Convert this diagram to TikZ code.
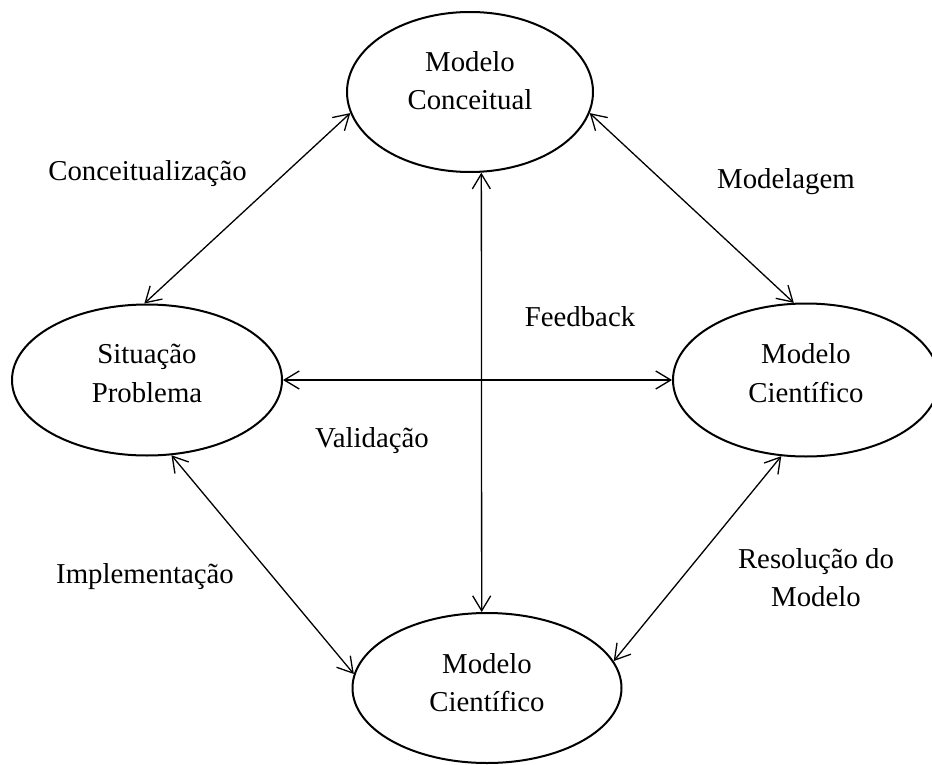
\documentclass[tikz,border=0pt]{standalone}
\usepackage{fontspec}
\setmainfont{Liberation Serif}
\usetikzlibrary{shapes.geometric,arrows.meta}

\tikzset{
  stage/.style={ellipse, draw, line width=2pt, inner sep=0pt},
  txt/.style={anchor=base, inner sep=0pt, font=\fontsize{28.8}{38}\selectfont},
  tip/.tip={Straight Barb[length=15pt,width=18pt]},
  link/.style={tip-tip, line width=1.3pt},
}

\begin{document}
\begin{tikzpicture}[x=1pt, y=-1pt]
  \useasboundingbox (0,0) rectangle (932,765);

  % the four stages of the cycle
  \node[stage, minimum width=246pt, minimum height=160pt] (mc) at (470,92)  {};
  \node[stage, minimum width=270pt, minimum height=151pt] (ms) at (147,380) {};
  \node[stage, minimum width=266pt, minimum height=153pt] (mr) at (806,380) {};
  \node[stage, minimum width=269pt, minimum height=150pt] (mb) at (487,688) {};

  % stage names
  \node[txt] (mc1) at (470,72)  {Modelo};
  \node[txt] (mc2) at (470,110) {Conceitual};
  \node[txt] (ms1) at (147,363) {Situação};
  \node[txt] (ms2) at (147,402) {Problema};
  \node[txt] (mr1) at (806,363) {Modelo};
  \node[txt] (mr2) at (806,402) {Científico};
  \node[txt] (mb1) at (487,673) {Modelo};
  \node[txt] (mb2) at (487,711) {Científico};

  % two-way links between stages
  \draw[link] (mc.190)  -- (ms.92);
  \draw[link] (mc.-10)  -- (mr.99);
  \draw[link] (ms.east) -- (mr.west);
  \draw[link] (mc.-82)  -- (mb.94);
  \draw[link] (ms.-72)  -- (mb.174);
  \draw[link] (mr.-108) -- (mb.12.5);

  % link names
  \node[txt] (l1) at (147.5,181) {Conceitualização};
  \node[txt] (l2) at (786,189)   {Modelagem};
  \node[txt] (l3) at (580,326)   {Feedback};
  \node[txt] (l4) at (372,447)   {Validação};
  \node[txt] (l5) at (145,583)   {Implementação};
  \node[txt] (l6) at (816,568)   {Resolução do};
  \node[txt] (l7) at (816,606)   {Modelo};
\end{tikzpicture}
\end{document}
